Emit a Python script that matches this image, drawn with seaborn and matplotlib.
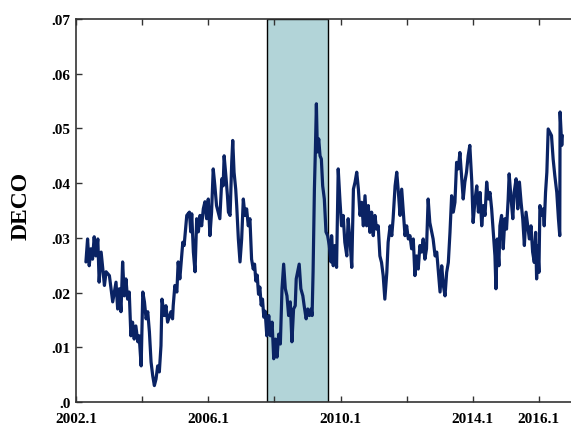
import matplotlib
matplotlib.use("Agg")
import matplotlib.pyplot as plt
import seaborn as sns
import pandas as pd

# ---- data (decimal year, DECO value) ----
years = [
    2002.30, 2002.35, 2002.40, 2002.45, 2002.50, 2002.55, 2002.60, 2002.66, 2002.70, 2002.76,
    2002.86, 2002.91, 2003.01, 2003.11, 2003.21, 2003.26, 2003.31, 2003.36, 2003.41, 2003.46,
    2003.51, 2003.56, 2003.61, 2003.66, 2003.71, 2003.76, 2003.81, 2003.87, 2003.91, 2003.97,
    2004.02, 2004.07, 2004.12, 2004.17, 2004.22, 2004.27, 2004.32, 2004.37, 2004.42, 2004.47,
    2004.52, 2004.57, 2004.60, 2004.67, 2004.72, 2004.77, 2004.87, 2004.92, 2004.94, 2004.99,
    2005.05, 2005.09, 2005.14, 2005.23, 2005.27, 2005.35, 2005.43, 2005.47, 2005.50, 2005.55,
    2005.60, 2005.65, 2005.70, 2005.75, 2005.80, 2005.85, 2005.90, 2005.95, 2006.00, 2006.05,
    2006.10, 2006.15, 2006.20, 2006.25, 2006.30, 2006.35, 2006.41, 2006.45, 2006.48, 2006.54,
    2006.58, 2006.61, 2006.66, 2006.71, 2006.74, 2006.78, 2006.83, 2006.86, 2006.91, 2006.96,
    2007.01, 2007.06, 2007.11, 2007.16, 2007.21, 2007.26, 2007.31, 2007.36, 2007.40, 2007.44,
    2007.48, 2007.52, 2007.56, 2007.60, 2007.64, 2007.68, 2007.72, 2007.77, 2007.78, 2007.83,
    2007.88, 2007.93, 2007.98,
    2008.03, 2008.08, 2008.13, 2008.18, 2008.23, 2008.28, 2008.33, 2008.38, 2008.43, 2008.48,
    2008.53, 2008.58, 2008.63, 2008.66, 2008.71, 2008.75, 2008.80, 2008.86, 2008.90, 2008.96,
    2009.01, 2009.06, 2009.11, 2009.14, 2009.17, 2009.21, 2009.24, 2009.27, 2009.30, 2009.34,
    2009.38, 2009.42, 2009.46, 2009.51, 2009.56, 2009.61, 2009.66, 2009.71, 2009.73, 2009.78,
    2009.83, 2009.88, 2009.93, 2009.98, 2010.03, 2010.08, 2010.13, 2010.19, 2010.23, 2010.29,
    2010.34, 2010.39, 2010.44, 2010.49, 2010.54, 2010.59, 2010.64, 2010.69, 2010.74, 2010.79,
    2010.84, 2010.89, 2010.94, 2010.99, 2011.04, 2011.09, 2011.14, 2011.19, 2011.24, 2011.29,
    2011.34, 2011.40, 2011.44, 2011.50, 2011.55, 2011.59, 2011.65, 2011.70, 2011.75, 2011.80,
    2011.85, 2011.90, 2011.95, 2012.00, 2012.05, 2012.10, 2012.15, 2012.20, 2012.25, 2012.30,
    2012.35, 2012.40, 2012.45, 2012.50, 2012.55, 2012.60, 2012.65, 2012.70, 2012.76, 2012.80,
    2012.86, 2012.91, 2012.96, 2013.01, 2013.06, 2013.11, 2013.16, 2013.21, 2013.26, 2013.31,
    2013.36, 2013.41, 2013.46, 2013.51, 2013.56, 2013.61, 2013.66, 2013.71, 2013.76, 2013.81,
    2013.86, 2013.91, 2013.97, 2014.01, 2014.07, 2014.12, 2014.17, 2014.22, 2014.27, 2014.32,
    2014.37, 2014.42, 2014.47, 2014.52, 2014.57, 2014.62, 2014.67, 2014.70, 2014.74, 2014.79,
    2014.82, 2014.87, 2014.92, 2014.97, 2015.02, 2015.07, 2015.10, 2015.15, 2015.21, 2015.25,
    2015.31, 2015.36, 2015.41, 2015.46, 2015.51, 2015.56, 2015.61, 2015.66, 2015.71, 2015.76,
    2015.81, 2015.86, 2015.90, 2015.93, 2015.96, 2016.00, 2016.03, 2016.08, 2016.13, 2016.16,
    2016.20, 2016.24, 2016.28, 2016.33, 2016.38, 2016.43, 2016.48, 2016.54, 2016.59, 2016.63,
    2016.64, 2016.69, 2016.71,
]

deco = [
    .0256, .0298, .0249, .0280, .0261, .0302, .0267, .0298, .0219, .0274,
    .0213, .0238, .0231, .0183, .0219, .0170, .0207, .0165, .0256, .0194,
    .0225, .0188, .0201, .0121, .0146, .0115, .0139, .0110, .0121, .0066,
    .0201, .0183, .0152, .0165, .0128, .0073, .0048, .0030, .0042, .0066,
    .0055, .0103, .0188, .0158, .0176, .0146, .0165, .0152, .0176, .0213,
    .0201, .0256, .0225, .0292, .0286, .0341, .0347, .0311, .0344, .0274,
    .0238, .0335, .0311, .0341, .0322, .0353, .0366, .0335, .0371, .0304,
    .0347, .0426, .0395, .0359, .0347, .0335, .0408, .0395, .0450, .0408,
    .0377, .0347, .0341, .0439, .0478, .0420, .0389, .0359, .0298, .0256,
    .0298, .0371, .0341, .0353, .0322, .0335, .0261, .0243, .0252, .0221,
    .0232, .0197, .0210, .0177, .0188, .0155, .0166, .0121, .0133, .0158,
    .0121, .0146, .0079,
    .0115, .0082, .0124, .0106, .0207, .0252, .0207, .0194, .0158, .0183,
    .0110, .0170, .0176, .0225, .0240, .0252, .0207, .0194, .0176, .0152,
    .0170, .0158, .0170, .0158, .0238, .0389, .0462, .0545, .0457, .0481,
    .0450, .0444, .0395, .0371, .0311, .0304, .0286, .0256, .0304, .0249,
    .0286, .0246, .0426, .0371, .0322, .0341, .0292, .0267, .0335, .0292,
    .0246, .0389, .0402, .0420, .0389, .0341, .0365, .0322, .0377, .0322,
    .0359, .0310, .0347, .0304, .0341, .0316, .0322, .0267, .0255, .0231,
    .0188, .0237, .0292, .0322, .0304, .0335, .0395, .0420, .0383, .0341,
    .0389, .0347, .0304, .0322, .0298, .0304, .0280, .0298, .0231, .0267,
    .0243, .0286, .0274, .0298, .0261, .0280, .0371, .0328, .0310, .0298,
    .0267, .0274, .0237, .0201, .0249, .0213, .0194, .0237, .0255, .0310,
    .0377, .0347, .0365, .0438, .0426, .0456, .0414, .0371, .0402, .0420,
    .0450, .0469, .0402, .0328, .0371, .0395, .0347, .0383, .0322, .0359,
    .0341, .0402, .0371, .0383, .0353, .0310, .0267, .0207, .0298, .0249,
    .0322, .0341, .0280, .0335, .0316, .0371, .0417, .0377, .0335, .0383,
    .0408, .0353, .0402, .0365, .0335, .0286, .0347, .0322, .0298, .0322,
    .0274, .0255, .0310, .0225, .0286, .0237, .0359, .0341, .0353, .0322,
    .0383, .0420, .0499, .0493, .0487, .0444, .0414, .0383, .0335, .0304,
    .0530, .0469, .0487,
]

tick_years = [2002, 2004, 2006, 2008, 2010, 2012, 2014, 2016]
tick_labels = ["2002.1", "", "2006.1", "", "2010.1", "", "2014.1", "2016.1"]
y_ticks = [0.0, 0.01, 0.02, 0.03, 0.04, 0.05, 0.06, 0.07]
y_tick_labels = [".0", ".01", ".02", ".03", ".04", ".05", ".06", ".07"]
crisis_start, crisis_end = 2007.77, 2009.61
x_range = (2002.0, 2016.97)
y_range = (0.0, 0.07)

df = pd.DataFrame({"year": years, "DECO": deco})

sns.set_style("ticks")
plt.rcParams["font.family"] = ["Liberation Serif", "DejaVu Serif"]
plt.rcParams["font.weight"] = "bold"

fig = plt.figure(figsize=(5.71, 4.27), dpi=100)
ax = fig.add_axes([76 / 571, 24 / 427, 495 / 571, 383 / 427])

ax.axvspan(crisis_start, crisis_end, facecolor="#b2d4d8", edgecolor="black",
           linewidth=1.0, zorder=0)
sns.lineplot(data=df, x="year", y="DECO", color="#0a2364", linewidth=2.3,
             estimator=None, sort=False, ax=ax, zorder=3)

ax.set_xlim(*x_range)
ax.set_ylim(*y_range)
ax.set_xticks(tick_years)
ax.set_xticklabels(tick_labels)
ax.set_yticks(y_ticks)
ax.set_yticklabels(y_tick_labels)

for lbl in ax.get_xticklabels() + ax.get_yticklabels():
    lbl.set_fontweight("bold")
    lbl.set_fontsize(11)

ax.tick_params(axis="x", direction="in", top=True, bottom=True, length=4,
               width=1.0, pad=7, colors="#333333", labelcolor="black")
ax.tick_params(axis="y", direction="in", left=True, right=False, length=4,
               width=1.0, pad=4, colors="#333333", labelcolor="black")

ax.set_xlabel("")
ax.set_ylabel("DECO", fontsize=17, fontweight="bold", color="black")
ax.yaxis.set_label_coords(-0.089, 0.515)

ax.spines["right"].set_visible(False)
for s in ["left", "top", "bottom"]:
    ax.spines[s].set_linewidth(1.2)
    ax.spines[s].set_color("#333333")

fig.savefig("out.png", dpi=100)
